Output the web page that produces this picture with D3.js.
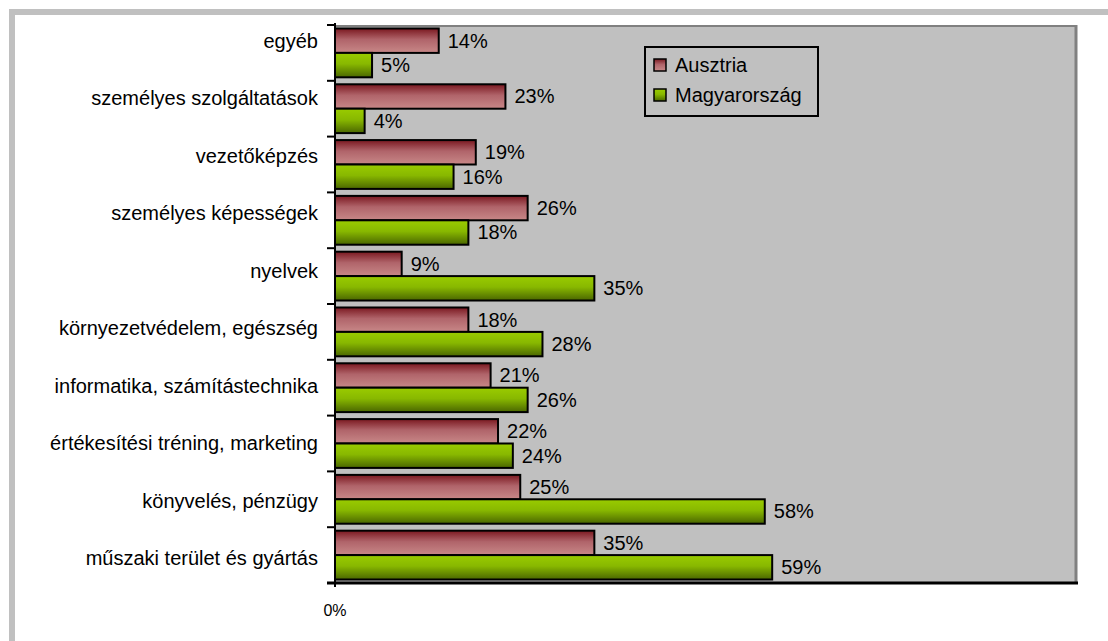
<!DOCTYPE html>
<html>
<head>
<meta charset="utf-8">
<script src="https://cdn.jsdelivr.net/npm/d3@7"></script>
<style>
  body { margin: 0; background: #fff; }
  svg { display: block; font-family: "Liberation Sans", Arial, sans-serif; }
</style>
</head>
<body>
<div id="chart"></div>
<script>
// categories, top to bottom
const categories = [
    "egyéb",
    "személyes szolgáltatások",
    "vezetőképzés",
    "személyes képességek",
    "nyelvek",
    "környezetvédelem, egészség",
    "informatika, számítástechnika",
    "értékesítési tréning, marketing",
    "könyvelés, pénzügy",
    "műszaki terület és gyártás"
];
const ausztria = [14, 23, 19, 26, 9, 18, 21, 22, 25, 35];
const magyarorszag = [5, 4, 16, 18, 35, 28, 26, 24, 58, 59];
const seriesNames = ["Ausztria", "Magyarország"];
const xTicks = [0];

const W = 1108, H = 641;
const plot = {left: 335, right: 1076, top: 25, bottom: 583};

const svg = d3.select("#chart")
    .append("svg")
    .attr("width", W)
    .attr("height", H);

const defs = svg.append("defs");
const redGrad = defs.append("linearGradient").attr("id", "gRed")
    .attr("x1", 0).attr("y1", 0).attr("x2", 0).attr("y2", 1);
redGrad.append("stop").attr("offset", "0%").attr("stop-color", "#7a1820");
redGrad.append("stop").attr("offset", "45%").attr("stop-color", "#b0646a");
redGrad.append("stop").attr("offset", "100%").attr("stop-color", "#c88888");
const greenGrad = defs.append("linearGradient").attr("id", "gGreen")
    .attr("x1", 0).attr("y1", 0).attr("x2", 0).attr("y2", 1);
greenGrad.append("stop").attr("offset", "0%").attr("stop-color", "#9acc00");
greenGrad.append("stop").attr("offset", "45%").attr("stop-color", "#88b800");
greenGrad.append("stop").attr("offset", "100%").attr("stop-color", "#4a6600");

// outer frame (only top and left visible)
svg.append("rect")
    .attr("x", 12).attr("y", 12)
    .attr("width", W + 20).attr("height", H + 20)
    .attr("fill", "none")
    .attr("stroke", "#c0c0c0")
    .attr("stroke-width", 6);

// scales
const x = d3.scaleLinear().domain([0, 100]).range([plot.left, plot.right]);
const y = d3.scaleBand().domain(categories).range([plot.top, plot.bottom])
    .paddingInner(0.125).paddingOuter(0.0625);
const ySub = d3.scaleBand().domain(seriesNames).range([0, y.bandwidth()]);
const yLabel = d3.scalePoint().domain(categories).range([41, 558]);

// plot area
svg.append("rect")
    .attr("x", plot.left).attr("y", plot.top)
    .attr("width", plot.right - plot.left).attr("height", plot.bottom - plot.top)
    .attr("fill", "#c0c0c0");
svg.append("line")
    .attr("x1", plot.left).attr("x2", plot.right + 1)
    .attr("y1", plot.top + 1).attr("y2", plot.top + 1)
    .attr("stroke", "#808080").attr("stroke-width", 2);
svg.append("line")
    .attr("x1", plot.right).attr("x2", plot.right)
    .attr("y1", plot.top).attr("y2", plot.bottom)
    .attr("stroke", "#808080").attr("stroke-width", 3);

// bars
const rows = categories.map((c, i) => ({cat: c, values: [
    {name: seriesNames[0], v: ausztria[i], fill: "url(#gRed)"},
    {name: seriesNames[1], v: magyarorszag[i], fill: "url(#gGreen)"}
]}));

const g = svg.selectAll("g.row")
    .data(rows)
    .enter()
    .append("g")
    .attr("class", "row")
    .attr("transform", d => `translate(0, ${y(d.cat)})`);

g.selectAll("rect")
    .data(d => d.values)
    .enter()
    .append("rect")
    .attr("x", x(0))
    .attr("y", d => ySub(d.name))
    .attr("width", d => x(d.v) - x(0))
    .attr("height", ySub.bandwidth())
    .attr("fill", d => d.fill)
    .attr("stroke", "#000")
    .attr("stroke-width", 2);

g.selectAll("text")
    .data(d => d.values)
    .enter()
    .append("text")
    .attr("x", d => x(d.v) + 9)
    .attr("y", d => ySub(d.name) + ySub.bandwidth() / 2)
    .attr("dy", "0.35em")
    .attr("font-size", "20px")
    .attr("fill", "#000")
    .text(d => d.v + "%");

// category axis
svg.append("line")
    .attr("x1", plot.left).attr("x2", plot.left)
    .attr("y1", plot.top - 2).attr("y2", plot.bottom + 4)
    .attr("stroke", "#000").attr("stroke-width", 2);
const tickYs = categories.map(c => y(c) - y.step() * y.paddingInner() / 2).concat([plot.bottom]);
svg.selectAll("line.ytick")
    .data(tickYs)
    .enter()
    .append("line")
    .attr("class", "ytick")
    .attr("x1", plot.left - 8).attr("x2", plot.left)
    .attr("y1", d => d).attr("y2", d => d)
    .attr("stroke", "#000").attr("stroke-width", 2);
svg.append("line")
    .attr("x1", plot.left - 8).attr("x2", plot.right + 2)
    .attr("y1", plot.bottom).attr("y2", plot.bottom)
    .attr("stroke", "#000").attr("stroke-width", 3);

svg.selectAll("text.cat")
    .data(categories)
    .enter()
    .append("text")
    .attr("class", "cat")
    .attr("x", 318)
    .attr("y", d => yLabel(d))
    .attr("dy", "0.35em")
    .attr("text-anchor", "end")
    .attr("font-size", "20px")
    .text(d => d);

// value axis labels
svg.selectAll("text.xtick")
    .data(xTicks)
    .enter()
    .append("text")
    .attr("class", "xtick")
    .attr("x", d => x(d))
    .attr("y", 610)
    .attr("dy", "0.35em")
    .attr("text-anchor", "middle")
    .attr("font-size", "16px")
    .text(d => d + "%");

// legend
const legend = svg.append("g").attr("transform", "translate(645, 47)");
legend.append("rect")
    .attr("width", 173).attr("height", 69)
    .attr("fill", "#c0c0c0")
    .attr("stroke", "#000").attr("stroke-width", 2);
const items = legend.selectAll("g.item")
    .data([{name: seriesNames[0], fill: "url(#gRed)"}, {name: seriesNames[1], fill: "url(#gGreen)"}])
    .enter()
    .append("g")
    .attr("transform", (d, i) => `translate(9, ${18 + i * 30})`);
items.append("rect")
    .attr("x", 0).attr("y", -6)
    .attr("width", 12).attr("height", 12)
    .attr("fill", d => d.fill)
    .attr("stroke", "#000").attr("stroke-width", 1.5);
items.append("text")
    .attr("x", 21)
    .attr("dy", "0.35em")
    .attr("font-size", "20px")
    .text(d => d.name);
</script>
</body>
</html>
